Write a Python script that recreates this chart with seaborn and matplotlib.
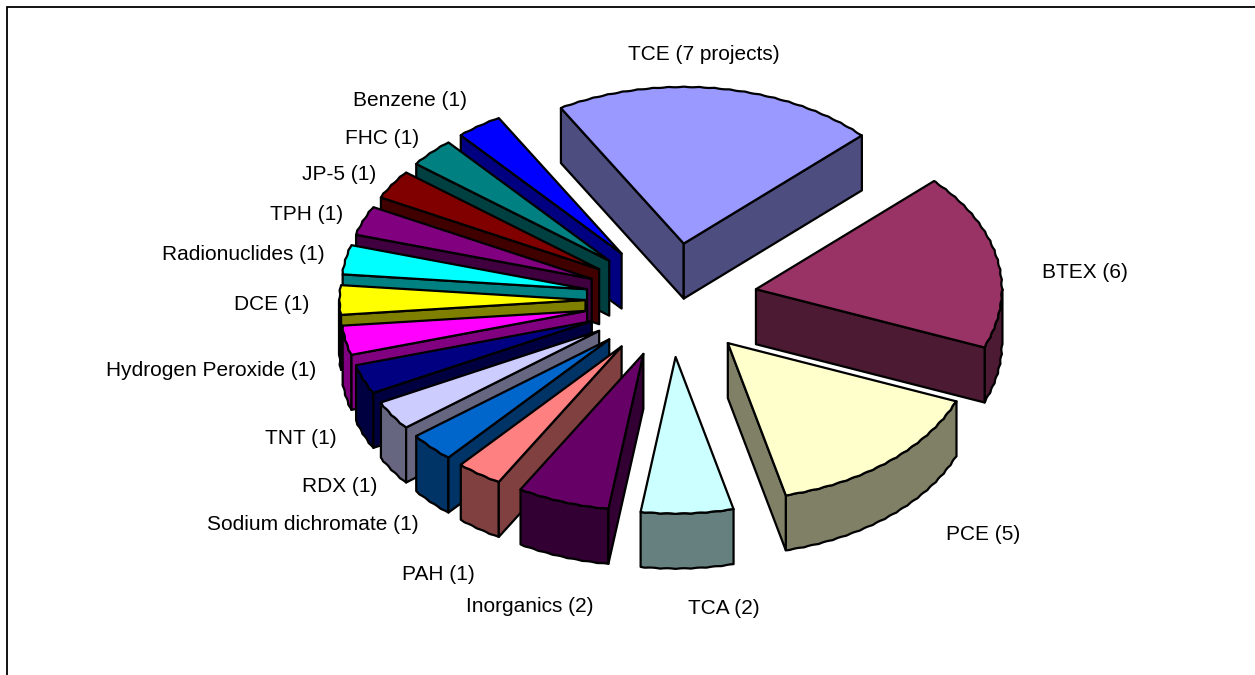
import numpy as np
import pandas as pd
import seaborn as sns
import matplotlib
matplotlib.use("Agg")
import matplotlib.pyplot as plt
from matplotlib.patches import Polygon

# ---- data -------------------------------------------------------------
labels = ["TCE (7 projects)", "BTEX (6)", "PCE (5)", "TCA (2)", "Inorganics (2)", "PAH (1)",
          "Sodium dichromate (1)", "RDX (1)", "TNT (1)", "Hydrogen Peroxide (1)", "DCE (1)",
          "Radionuclides (1)", "TPH (1)", "JP-5 (1)", "FHC (1)", "Benzene (1)"]
projects = [7, 6, 5, 2, 2, 1, 1, 1, 1, 1, 1, 1, 1, 1, 1, 1]
colors = ["#9999FF", "#993366", "#FFFFCC", "#CCFFFF", "#660066", "#FF8080", "#0066CC", "#CCCCFF",
          "#000080", "#FF00FF", "#FFFF00", "#00FFFF", "#800080", "#800000", "#008080", "#0000FF"]

# ---- layout (pixels of the 1255x675 canvas) ---------------------------
label_xy = [(704, 55), (1085, 272), (983, 534), (724, 609), (530, 607), (438, 574),
            (313, 525), (340, 486), (301, 438), (211, 371), (272, 305),
            (243, 255), (307, 214), (339, 175), (382, 139), (410, 101)]
CX, CY = 671.5, 300     # pie centre
RX, RY = 246.5, 157     # pie radii
EX, EY = 86, 57         # explosion distance
DEPTH = 55              # extrusion
START = -30             # first slice edge, degrees clockwise from north
LW = 1.6

sns.set_theme(style="white")
plt.rcParams["font.family"] = ["Liberation Sans", "DejaVu Sans"]

df = pd.DataFrame({"label": labels, "projects": projects})
df["sweep"] = df["projects"] / df["projects"].sum() * 360
df["a0"] = START + df["sweep"].cumsum().shift(fill_value=0)
df["a1"] = df["a0"] + df["sweep"]
df["mid"] = (df["a0"] + df["a1"]) / 2
palette = sns.color_palette(colors)

fig = plt.figure(figsize=(12.55, 6.75), dpi=100, facecolor="white")
ax = fig.add_axes([0, 0, 1, 1])
ax.set_xlim(0, 1255)
ax.set_ylim(675, 0)
ax.axis("off")

ax.plot([6.5, 6.5, 1255], [675, 6.5, 6.5], color="black", lw=1.3, solid_joinstyle="miter")


def shade(c, f=0.5):
    return tuple(v * f for v in c)


def face(pts, fc, z):
    ax.add_patch(Polygon(pts, closed=True, facecolor=fc, edgecolor="black",
                         linewidth=LW, joinstyle="round", zorder=z))


def rim_points(tip, a_from, a_to):
    n = max(int((a_to - a_from) * 2), 8)
    t = np.radians(np.linspace(a_from, a_to, n + 1))
    scallop = 1 - 0.004 * np.abs(np.sin(t * 50))
    return np.column_stack([tip[0] + RX * scallop * np.sin(t), tip[1] - RY * scallop * np.cos(t)])


order = df.assign(tip=CY - EY * np.cos(np.radians(df["mid"]))).sort_values("tip").index
down = np.array([0, DEPTH])
for z, i in enumerate(order):
    row = df.loc[i]
    a0, a1 = row["a0"], row["a1"]
    mid = np.radians(row["mid"])
    tip = np.array([CX + EX * np.sin(mid), CY - EY * np.cos(mid)])
    arc = rim_points(tip, a0, a1)
    col = palette[i]
    side = shade(col)
    base = z * 10
    # rim wall: only the part on the near half of the ellipse
    lo, hi = max(a0, 90), min(a1, 270)
    if hi > lo:
        front = rim_points(tip, lo, hi)
        face(np.vstack([front, (front + down)[::-1]]), side, base + 1)
    # radial walls: only the ones that face the viewer
    if np.sin(np.radians(a0)) < 0:
        face(np.array([tip, arc[0], arc[0] + down, tip + down]), side, base + 2)
    if np.sin(np.radians(a1)) > 0:
        face(np.array([tip, arc[-1], arc[-1] + down, tip + down]), side, base + 2)
    face(np.vstack([tip, arc]), col, base + 3)

for (x, y), s in zip(label_xy, labels):
    ax.text(x, y, s, ha="center", va="center", fontsize=15, color="black", zorder=1000)

fig.savefig("out.png", dpi=100, facecolor="white")
